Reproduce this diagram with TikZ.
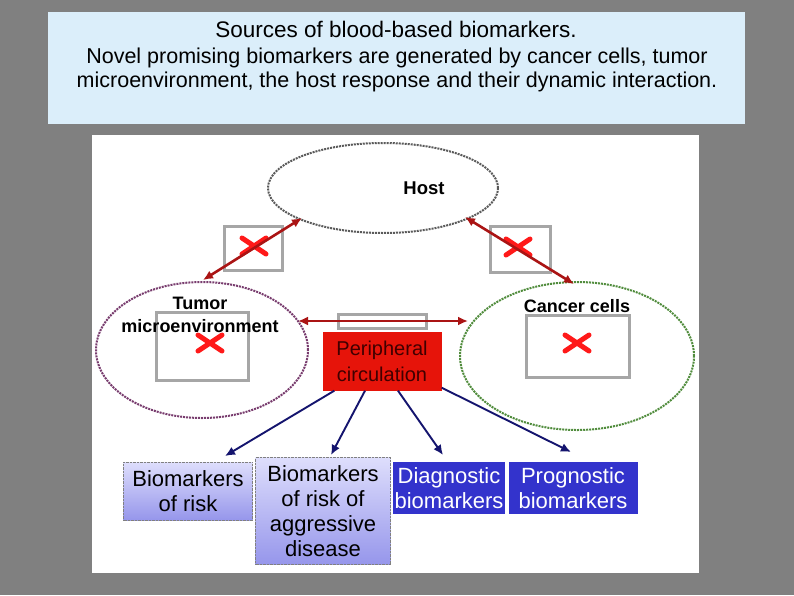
\documentclass[tikz,border=0pt]{standalone}
\usepackage{fontspec}
\setmainfont{Liberation Sans}
\usetikzlibrary{shapes.geometric,backgrounds,arrows.meta}
\definecolor{slidegrey}{RGB}{128,128,128}
\definecolor{titleblue}{RGB}{219,238,250}
\definecolor{hostgrey}{RGB}{90,90,90}
\definecolor{tumorpurple}{RGB}{120,60,110}
\definecolor{cellgreen}{RGB}{80,140,60}
\definecolor{circred}{RGB}{230,20,10}
\definecolor{arrowred}{RGB}{170,20,20}
\definecolor{arrowblue}{RGB}{20,20,110}
\definecolor{lavender}{RGB}{200,200,250}
\definecolor{lavdark}{RGB}{150,150,235}
\definecolor{markerblue}{RGB}{51,51,204}
\tikzstyle{source} = [ellipse, line width=2pt, densely dotted, fill=white]
\tikzstyle{link} = [line width=2.6pt, draw=arrowred, {Latex[length=10pt,width=9pt]}-{Latex[length=10pt,width=9pt]}]
\tikzstyle{feed} = [line width=1.9pt, draw=arrowblue, -{Latex[length=10pt,width=9pt]}]
\tikzstyle{lightmark} = [draw=gray, densely dotted, top color=lavender!60, bottom color=lavdark,
  align=center, font=\fontsize{22}{25}\selectfont, inner sep=0pt]
\tikzstyle{darkmark} = [fill=markerblue, text=white,
  align=center, font=\fontsize{22}{25}\selectfont, inner sep=0pt]
\tikzstyle{brokenimg} = [draw=gray!70, line width=3pt, fill=white]
\begin{document}
\begin{tikzpicture}[x=1pt, y=-1pt]
            \useasboundingbox (0,0) rectangle (794,595);
            \fill[slidegrey] (0,0) rectangle (794,595);

            % Title panel
            \fill[titleblue] (48,12) rectangle (745,124);
            \node[font=\fontsize{22.5}{26}\selectfont] (title) at (396,29) {Sources of blood-based biomarkers.};
            \node[font=\fontsize{21.5}{24}\selectfont, align=center] (subtitle) at (397,70)
              {Novel promising biomarkers are generated by cancer cells, tumor\\
               microenvironment, the host response and their dynamic interaction.};

            % Picture panel
            \fill[white] (92,135) rectangle (699,573);

            % Sources
            \node[source, draw=hostgrey, minimum width=230, minimum height=90] (host) at (383,188) {};
            \node[font=\bfseries\fontsize{18.5}{20}\selectfont] (hostlabel) at (424,188) {Host};
            \node[source, draw=tumorpurple, minimum width=212, minimum height=136] (tumor) at (202,350) {};
            \node[source, draw=cellgreen, minimum width=234, minimum height=148] (cancer) at (577,356) {};

            % Placeholder images
            \draw[brokenimg] (224,226) rectangle (282,270);
            \draw[brokenimg] (490,226) rectangle (550,272);
            \draw[brokenimg] (338,314) rectangle (426,328);
            \draw[brokenimg] (156,312) rectangle (248,380);
            \draw[brokenimg] (526,315) rectangle (629,377);
            \foreach \cx/\cy in {254/246, 518/247, 210/343, 577/343}
              \draw[red!90, line width=5pt, line cap=round] (\cx-12,\cy-8) -- (\cx+12,\cy+8) (\cx-12,\cy+8) -- (\cx+12,\cy-8);

            \node[align=center, font=\bfseries\fontsize{18}{23}\selectfont] (tumorlabel) at (200,315) {Tumor\\microenvironment};
            \node[font=\bfseries\fontsize{18}{20}\selectfont] (cancerlabel) at (577,306) {Cancer cells};

            % Peripheral circulation
            \node[fill=circred, text=red!25!black, align=center, minimum width=119, minimum height=59,
              font=\fontsize{20}{26}\selectfont] (circ) at (382,361) {Peripheral\\circulation};

            % Links between sources
            \coordinate (hostsw) at (302,218);
            \coordinate (hostse) at (465,217);
            \coordinate (tumortop) at (203,280);
            \coordinate (tumoreast) at (298,321);
            \coordinate (cancertop) at (574,284);
            \coordinate (cancerwest) at (468,321);
            \draw[link] (hostsw) -- (tumortop);
            \draw[link] (hostse) -- (cancertop);
            \draw[link] (tumoreast) -- (cancerwest);

            % Biomarkers
            \node[lightmark, minimum width=129, minimum height=58] (risk) at (188,491) {Biomarkers\\of risk};
            \node[lightmark, minimum width=135, minimum height=107] (aggr) at (323,511) {Biomarkers\\of risk of\\aggressive\\disease};
            \node[darkmark, minimum width=112, minimum height=52] (diag) at (449,488) {Diagnostic\\biomarkers};
            \node[darkmark, minimum width=129, minimum height=52] (prog) at (573,488) {Prognostic\\biomarkers};

            \coordinate (riskend) at (225,456);
            \coordinate (aggrend) at (331,455);
            \coordinate (diagend) at (443,455);
            \coordinate (progend) at (571,452);
            \draw[feed] (circ.south west) ++(12,0) -- (riskend);
            \draw[feed] (circ.south) ++(-17,0) -- (aggrend);
            \draw[feed] (circ.south) ++(16,0) -- (diagend);
            \draw[feed] (circ.south east) ++(0,-3) -- (progend);
          \end{tikzpicture}
\end{document}
